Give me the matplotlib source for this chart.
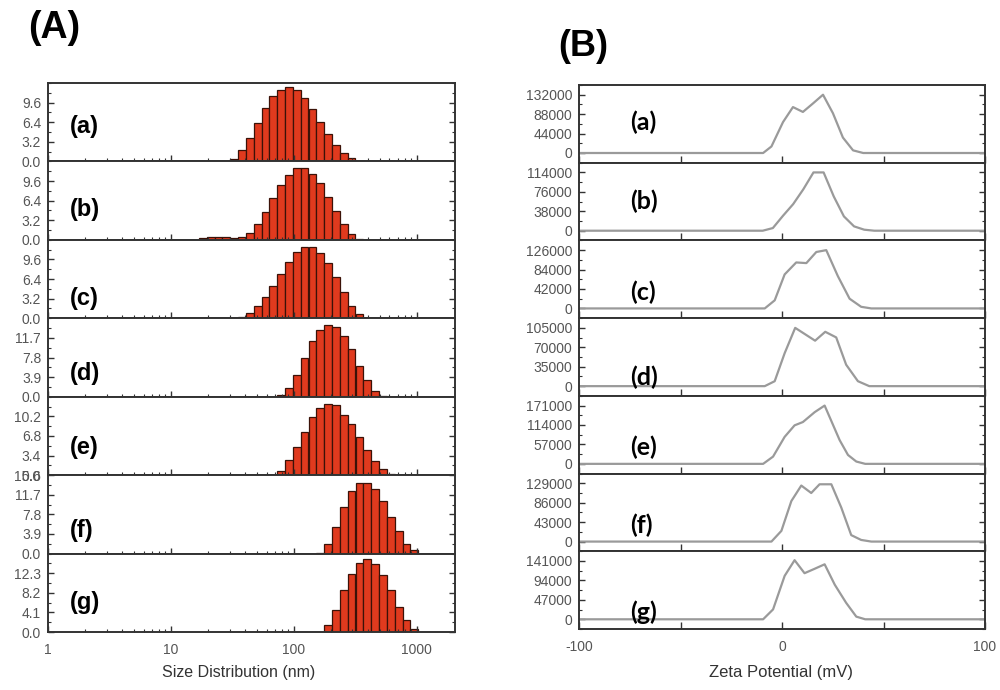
import numpy as np
import matplotlib
matplotlib.use("Agg")
import matplotlib.pyplot as plt
from matplotlib.ticker import AutoMinorLocator, FixedLocator, NullFormatter

plt.rcParams['font.family'] = ['Liberation Sans', 'DejaVu Sans']

# ---- (A) size distribution (intensity %), Zetasizer size bins (nm)
sizes = [18.17, 21.04, 24.36, 28.21, 32.67, 37.84, 43.82, 50.75, 58.77, 68.06,
         78.82, 91.28, 105.7, 122.4, 141.8, 164.2, 190.1, 220.2, 255.0, 295.3,
         342.0, 396.1, 458.7, 531.2, 615.1, 712.4, 825.0, 955.4]

size_a = [0, 0, 0, 0, 0.4, 1.9, 3.9, 6.2, 8.8, 10.6, 11.7, 12.2, 11.6, 10.3, 8.6,
          6.5, 4.5, 2.7, 1.4, 0.6, 0.1, 0, 0, 0, 0, 0, 0, 0]
size_b = [0.3, 0.4, 0.4, 0.4, 0.3, 0.5, 1.2, 2.6, 4.5, 6.9, 8.9, 10.6, 11.7, 11.7,
          10.7, 9.2, 7.0, 4.7, 2.6, 1.0, 0.2, 0, 0, 0, 0, 0, 0, 0]
size_c = [0, 0, 0, 0, 0, 0.2, 0.9, 2.0, 3.5, 5.2, 7.2, 9.2, 10.8, 11.6, 11.6,
          10.7, 9.0, 6.7, 4.3, 2.0, 0.7, 0, 0, 0, 0, 0, 0, 0]
size_d = [0, 0, 0, 0, 0, 0, 0, 0, 0, 0, 0.3, 1.7, 4.4, 7.7, 11.1, 13.2, 14.3,
          13.9, 12.1, 9.4, 6.2, 3.4, 1.1, 0.2, 0, 0, 0, 0]
size_e = [0, 0, 0, 0, 0, 0, 0, 0, 0, 0, 0.8, 2.6, 4.9, 7.5, 10.0, 11.7, 12.4,
          12.2, 10.4, 8.8, 6.6, 4.3, 2.4, 1.0, 0.2, 0, 0, 0]
size_f = [0, 0, 0, 0, 0, 0, 0, 0, 0, 0, 0, 0, 0, 0, 0, 0.2, 2.0, 5.3, 9.2, 12.4,
          14.0, 14.1, 12.8, 10.4, 7.2, 4.5, 2.0, 0.7]
size_g = [0, 0, 0, 0, 0, 0, 0, 0, 0, 0, 0, 0, 0, 0, 0, 0, 1.5, 4.7, 8.8, 12.2,
          14.4, 15.3, 14.3, 12.0, 8.8, 5.3, 2.5, 0.7]

size_steps = [3.2, 3.2, 3.2, 3.9, 3.4, 3.9, 4.1]

# ---- (B) zeta potential distributions (mV, counts)
zeta_x_a = [-100, -9.3, -5.2, 0.5, 5.4, 10.3, 15.2, 20.2, 25.1, 30.0, 35.0, 40.0, 100]
zeta_y_a = [0, 0, 14800, 70000, 104000, 93000, 112000, 132000, 90000, 35000, 6000, 0, 0]
zeta_x_b = [-100, -9.5, -4.5, 0.5, 5.5, 10.5, 15.5, 20.5, 25.5, 30.5, 35.5, 40.5, 45.5, 100]
zeta_y_b = [0, 0, 5200, 29300, 52000, 81000, 114000, 114000, 67000, 28000, 8500, 2000, 0, 0]
zeta_x_c = [-100, -8.5, -3.6, 1.3, 7.0, 12.0, 16.9, 21.8, 27.5, 33.3, 39.0, 44.0, 100]
zeta_y_c = [0, 0, 17500, 73500, 99400, 98000, 122000, 126000, 70000, 21000, 3500, 0, 0]
zeta_x_d = [-100, -8.5, -3.6, 1.3, 6.5, 16.3, 21.3, 26.7, 31.6, 37.4, 43.0, 100]
zeta_y_d = [0, 0, 8900, 59300, 105000, 81900, 97900, 87800, 38600, 8900, 0, 0]
zeta_x_e = [-100, -9.3, -4.4, 1.3, 6.2, 10.3, 16.1, 21.0, 28.4, 32.5, 36.6, 41.0, 100]
zeta_y_e = [0, 0, 21300, 79200, 113000, 122700, 151700, 171000, 69600, 26100, 6800, 0, 0]
zeta_x_f = [-100, -5.2, -0.3, 4.6, 9.5, 14.4, 18.5, 24.3, 29.2, 34.1, 39.0, 44.0, 100]
zeta_y_f = [0, 0, 23700, 89600, 124000, 107500, 126800, 126800, 75300, 14300, 3600, 0, 0]
zeta_x_g = [-100, -9.3, -4.4, 1.3, 6.2, 11.1, 16.0, 21.0, 26.0, 31.6, 36.6, 41.0, 100]
zeta_y_g = [0, 0, 23900, 105000, 143000, 111500, 122000, 133000, 83600, 39800, 6400, 0, 0]

zeta_steps = [44000, 38000, 42000, 35000, 57000, 43000, 47000]

panel_names = ['(a)', '(b)', '(c)', '(d)', '(e)', '(f)', '(g)']

size_sets = [size_a, size_b, size_c, size_d, size_e, size_f, size_g]
zeta_sets = [(zeta_x_a, zeta_y_a), (zeta_x_b, zeta_y_b), (zeta_x_c, zeta_y_c),
             (zeta_x_d, zeta_y_d), (zeta_x_e, zeta_y_e), (zeta_x_f, zeta_y_f),
             (zeta_x_g, zeta_y_g)]

# label heights inside each panel (axes fraction)
left_label_y = [0.45, 0.39, 0.25, 0.29, 0.35, 0.29, 0.37]
right_label_y = [0.52, 0.50, 0.33, 0.24, 0.34, 0.33, 0.22]

W, H = 1000, 690
fig = plt.figure(figsize=(10, 6.9), dpi=100)

spine_col = '#333333'
tick_col = '#555555'
bar_ratio = 1.158
s = np.array(sizes)
left_edges = s / np.sqrt(bar_ratio)
bar_w = s * np.sqrt(bar_ratio) - left_edges


def style(ax):
    for sp in ax.spines.values():
        sp.set_color(spine_col)
        sp.set_linewidth(1.4)
    ax.tick_params(which='both', direction='in', right=True, top=False,
                   colors=spine_col, labelcolor=tick_col, labelsize=10)
    ax.tick_params(which='major', length=4, width=1)
    ax.tick_params(which='minor', length=2.5, width=0.8)
    ax.tick_params(axis='y', pad=5)


# ---- left panel
lx0, lx1, ltop, lbot = 48, 455, 83, 632
lh = (lbot - ltop) / 7
for i in range(7):
    ax = fig.add_axes([lx0 / W, 1 - (ltop + (i + 1) * lh) / H, (lx1 - lx0) / W, lh / H])
    ax.bar(left_edges, size_sets[i], width=bar_w, align='edge',
           color='#e03a1e', edgecolor='#3b1208', linewidth=0.9)
    ax.set_xscale('log')
    ax.set_xlim(1, 2050)
    st = size_steps[i]
    ax.set_ylim(0, 4 * st)
    ticks = [0, st, 2 * st, 3 * st]
    if i == 5:
        ticks.append(4 * st)
    ax.set_yticks(ticks)
    ax.set_yticklabels(['%.1f' % t for t in ticks])
    ax.yaxis.set_minor_locator(AutoMinorLocator(2))
    ax.set_xticks([1, 10, 100, 1000])
    ax.xaxis.set_minor_locator(FixedLocator([m * 10 ** d for d in range(3) for m in range(2, 10)]))
    ax.xaxis.set_minor_formatter(NullFormatter())
    style(ax)
    if i == 6:
        ax.set_xticklabels(['1', '10', '100', '1000'])
        ax.tick_params(axis='x', pad=8)
    else:
        ax.set_xticklabels([])
    ax.text(0.054, left_label_y[i], panel_names[i], transform=ax.transAxes,
            fontsize=17, fontweight='bold', va='center', ha='left')

# ---- right panel
rx0, rx1, rtop, rbot = 579, 985, 85, 629
rh = (rbot - rtop) / 7
for i in range(7):
    ax = fig.add_axes([rx0 / W, 1 - (rtop + (i + 1) * rh) / H, (rx1 - rx0) / W, rh / H])
    zx, zy = zeta_sets[i]
    ax.plot(zx, zy, color='#9a9a9a', linewidth=1.6)
    ax.set_xlim(-100, 100)
    st = zeta_steps[i]
    ax.set_ylim(-0.5 * st, 3.5 * st)
    ticks = [0, st, 2 * st, 3 * st]
    ax.set_yticks(ticks)
    ax.set_yticklabels(['%d' % t for t in ticks])
    ax.yaxis.set_minor_locator(AutoMinorLocator(2))
    ax.set_xticks([-100, -50, 0, 50, 100])
    style(ax)
    ax.tick_params(axis='x', which='major', length=5)
    if i == 6:
        ax.set_xticklabels(['-100', '', '0', '', '100'])
        ax.tick_params(axis='x', pad=8)
    else:
        ax.set_xticklabels([])
    ax.text(0.125, right_label_y[i], panel_names[i], transform=ax.transAxes,
            fontsize=18, fontweight='bold', va='center', ha='left',
            family=['Lato', 'DejaVu Sans'])

fig.text(28 / W, 1 - 28 / H, '(A)', fontsize=27, fontweight='bold', ha='left', va='center')
fig.text(558 / W, 1 - 47 / H, '(B)', fontsize=26, fontweight='bold', ha='left', va='center')
fig.text(239 / W, 1 - 673 / H, 'Size Distribution (nm)', fontsize=11.5, color='#333333',
         ha='center', va='center')
fig.text(781 / W, 1 - 673 / H, 'Zeta Potential (mV)', fontsize=12, color='#333333',
         ha='center', va='center')

fig.savefig('out.png', dpi=100)
